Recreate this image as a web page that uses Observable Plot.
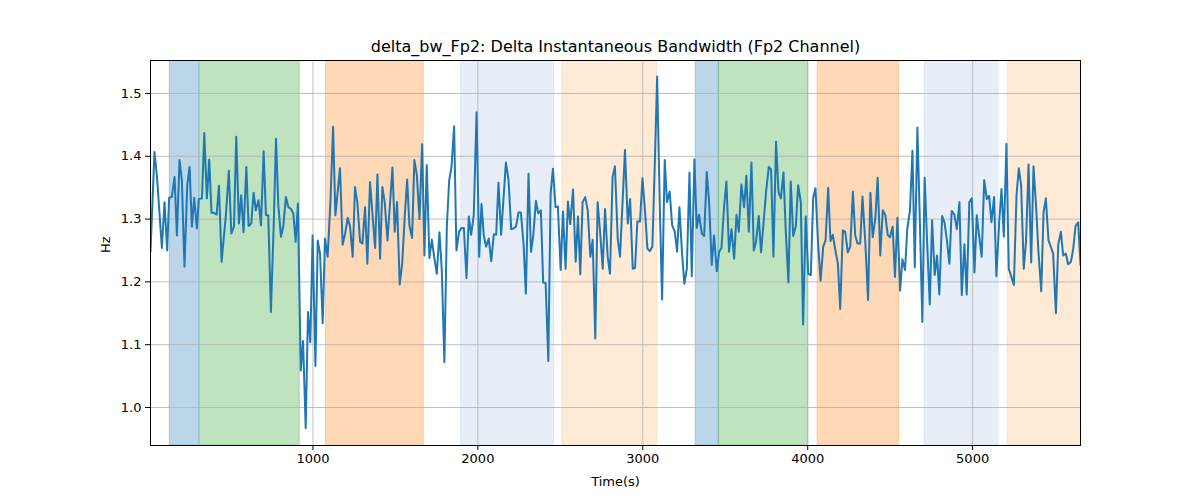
<!DOCTYPE html>
<html><head><meta charset="utf-8">
<script src="https://cdn.jsdelivr.net/npm/d3@7"></script>
<script src="https://cdn.jsdelivr.net/npm/@observablehq/plot@0.6"></script>
<style>body{margin:0;background:#fff}</style>
</head><body><div id="chart"></div>
<script>
const times = [15,39,55,84,100,116,128,144,161,175,191,205,221,238,252,266,280,296,308,327,341,357,371,385,399,416,430,446,460,472,490,505,521,535,551,565,579,596,610,626,640,654,670,685,
701,715,729,745,762,776,790,806,820,836,851,867,881,895,909,926,940,956,970,984,998,1015,1029,1043,1059,1073,1089,1106,1122,1136,1150,1164,1180,1195,1211,1225,1241,1255,1269,1286,1300,1316,1330,1346,1360,1377,1391,1407,1421,
1435,1452,1466,1482,1496,1510,1526,1541,1557,1571,1585,1601,1615,1630,1646,1662,1676,1690,1706,1721,1735,1751,1767,1781,1797,1812,1826,1840,1856,1870,1886,1901,1915,1931,1945,1959,1975,1992,2008,2022,2036,2050,2066,2081,2097,2111,2125,2141,
2170,2186,2202,2216,2231,2247,2261,2277,2291,2307,2322,2336,2352,2366,2382,2396,2411,2427,2441,2455,2471,2485,2502,2516,2532,2546,2560,2577,2593,2607,2621,2635,2651,2666,2682,2696,2712,2726,2742,2757,2771,2787,2801,2817,2831,2848,2862,
2892,2909,2923,2939,2953,2967,2983,2998,3014,3028,3042,3058,3072,3087,3103,3117,3133,3147,3163,3178,3194,3208,3222,3238,3252,3267,3283,3297,3313,3327,3341,3358,3372,3388,3402,3418,3432,3449,3463,3477,3493,3507,3523,3538,3554,3568,3582,
3598,3614,3628,3643,3659,3673,3687,3703,3717,3734,3748,3764,3778,3792,3808,3823,3837,3853,3867,3883,3897,3912,3928,3942,3958,3972,3988,4003,4019,4033,4047,4063,4078,4094,4108,4124,4138,4152,4169,4183,4197,4213,4227,4243,4258,4274,4288,4302,4318,4332,
4349,4366,4380,4394,4410,4424,4440,4455,4471,4485,4499,4515,4529,4544,4560,4574,4590,4604,4620,4635,4649,4665,4679,4695,4709,4724,4740,4754,4770,4784,4798,4815,4829,4845,4859,4873,4889,4904,4920,4934,4950,4964,4980,4995,5011,5025,5039,5055,5070,
5086,5100,5114,5130,5144,5161,5175,5189,5205,5219,5235,5250,5266,5280,5294,5310,5324,5339,5355,5369,5385,5399,5416,5430,5444,5460,5474,5488,5505,5519,5535,5549,5565,5579,5596,5610,5624,5640,5654];
const values = [1.248,1.407,1.365,1.254,1.327,1.250,1.334,1.335,1.367,1.274,1.394,1.362,1.224,1.354,1.383,1.288,1.334,1.285,1.332,1.333,1.437,1.333,1.395,1.310,1.310,1.307,1.353,1.232,1.272,1.306,1.377,1.277,1.288,1.431,1.293,1.338,1.279,1.383,1.289,1.293,1.342,1.314,1.330,1.290,
1.408,1.306,1.306,1.152,1.290,1.428,1.322,1.272,1.288,1.335,1.319,1.316,1.309,1.264,1.325,1.059,1.106,0.967,1.152,1.104,1.274,1.066,1.266,1.245,1.134,1.269,1.240,1.327,1.447,1.306,1.343,1.381,1.259,1.277,1.302,1.288,1.240,1.351,1.327,1.264,1.261,1.319,1.229,1.359,1.311,1.254,1.371,1.237,1.351,
1.327,1.266,1.320,1.382,1.280,1.327,1.196,1.229,1.306,1.363,1.290,1.270,1.394,1.370,1.300,1.419,1.242,1.386,1.238,1.267,1.240,1.213,1.279,1.220,1.072,1.290,1.361,1.383,1.448,1.250,1.280,1.286,1.286,1.206,1.304,1.275,1.306,1.470,1.240,1.324,1.274,1.256,1.269,1.233,1.276,1.275,1.358,1.275,
1.390,1.362,1.284,1.285,1.288,1.311,1.310,1.260,1.181,1.372,1.248,1.274,1.329,1.309,1.314,1.199,1.198,1.074,1.340,1.380,1.319,1.320,1.219,1.312,1.221,1.328,1.292,1.347,1.232,1.304,1.212,1.327,1.335,1.314,1.240,1.267,1.110,1.327,1.277,1.221,1.316,1.240,1.213,1.367,1.384,1.269,1.240,
1.410,1.293,1.332,1.221,1.222,1.296,1.296,1.365,1.311,1.253,1.249,1.256,1.380,1.527,1.320,1.172,1.394,1.327,1.344,1.290,1.280,1.248,1.319,1.245,1.197,1.221,1.374,1.209,1.395,1.286,1.307,1.277,1.273,1.375,1.327,1.227,1.274,1.217,1.248,1.254,1.320,1.360,1.248,1.284,1.237,1.307,1.280,
1.355,1.319,1.369,1.280,1.390,1.250,1.264,1.305,1.247,1.300,1.345,1.383,1.379,1.240,1.423,1.343,1.333,1.374,1.280,1.199,1.360,1.273,1.289,1.354,1.327,1.132,1.304,1.213,1.211,1.334,1.349,1.260,1.202,1.256,1.266,1.350,1.265,1.275,1.248,1.229,1.157,1.282,1.280,1.247,1.256,1.344,1.274,1.261,1.261,1.336,
1.264,1.171,1.342,1.271,1.301,1.366,1.242,1.314,1.306,1.275,1.271,1.288,1.208,1.302,1.186,1.236,1.219,1.285,1.314,1.409,1.223,1.446,1.306,1.136,1.366,1.264,1.164,1.298,1.211,1.242,1.180,1.305,1.295,1.264,1.229,1.313,1.307,1.284,1.327,1.179,1.260,1.180,1.327,1.333,1.215,1.306,1.274,1.240,1.362,
1.332,1.337,1.295,1.335,1.209,1.295,1.348,1.272,1.420,1.221,1.208,1.195,1.338,1.381,1.354,1.221,1.266,1.387,1.231,1.384,1.319,1.248,1.185,1.311,1.333,1.266,1.256,1.245,1.150,1.259,1.280,1.242,1.245,1.228,1.232,1.253,1.289,1.295,1.227];

const bandStart = [132, 314, 1079, 1899, 2512, 3321, 3461, 4060, 4709, 5213];
const bandEnd   = [310, 920, 1672, 2463, 3087, 3461, 4003, 4555, 5156, 5660];
const bandKind  = ["blue","green","orange","lightblue","lightorange","blue","green","orange","lightblue","lightorange"];
const kindNames  = ["blue","green","orange","lightblue","lightorange"];
const kindColors = ["#1f77b4","#2ca02c","#ff7f0e","#aec7e8","#ffbb78"];

const xTicks = [1000, 2000, 3000, 4000, 5000];
const yTicks = [1.0, 1.1, 1.2, 1.3, 1.4, 1.5];
const titleText = "delta_bw_Fp2: Delta Instantaneous Bandwidth (Fp2 Channel)";
const xLabel = "Time(s)";
const yLabel = "Hz";

const series = times.map((t, i) => ({t, v: values[i]}));
const bands = bandStart.map((s, i) => ({x1: s, x2: bandEnd[i], kind: bandKind[i]}));

const chart = Plot.plot({
  width: 1200, height: 500,
  marginLeft: 150, marginRight: 120, marginTop: 60, marginBottom: 55,
  style: {fontFamily: "DejaVu Sans", fontSize: "13px", background: "#fff", color: "#000"},
  x: {domain: [15, 5654], ticks: xTicks, tickFormat: d => String(d), label: null},
  y: {domain: [0.9395, 1.5525], ticks: yTicks, tickFormat: d3.format(".1f"), label: null},
  color: {domain: kindNames, range: kindColors},
  marks: [
    Plot.rect(bands, {x1: "x1", x2: "x2", fill: "kind", fillOpacity: 0.3, stroke: "kind", strokeOpacity: 0.3, clip: true}),
    Plot.gridX(xTicks, {stroke: "#b0b0b0", strokeOpacity: 1, strokeWidth: 0.8}),
    Plot.gridY(yTicks, {stroke: "#b0b0b0", strokeOpacity: 1, strokeWidth: 0.8}),
    Plot.line(series, {x: "t", y: "v", stroke: "#1f77b4", strokeWidth: 2, clip: true}),
    Plot.frame({stroke: "#000", strokeWidth: 1}),
    Plot.axisX(xTicks, {tickSize: 5, tickPadding: 3, fontSize: 13, label: null, tickFormat: d => String(d)}),
    Plot.axisY(yTicks, {tickSize: 5, tickPadding: 4, fontSize: 13, label: null, tickFormat: d3.format(".1f")}),
    Plot.text([xLabel], {text: d => d, frameAnchor: "bottom", lineAnchor: "middle", dy: 36, fontSize: 13}),
    Plot.text([yLabel], {text: d => d, frameAnchor: "left", dx: -45, rotate: -90, fontSize: 13}),
    Plot.text([titleText], {text: d => d, frameAnchor: "top", lineAnchor: "middle", dy: -14, fontSize: 16})
  ]
});
document.getElementById("chart").appendChild(chart);
</script>
</body></html>
